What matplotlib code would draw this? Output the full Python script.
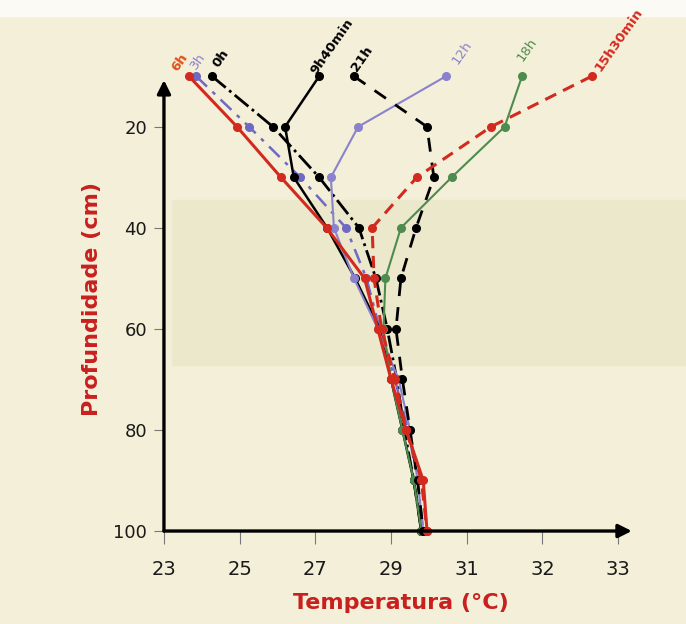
import numpy as np
import matplotlib
matplotlib.use('Agg')
import matplotlib.pyplot as plt
from matplotlib.patches import Rectangle

# profundidade (cm) e temperatura (C) para cada horario
depth = [10, 20, 30, 40, 50, 60, 70, 80, 90, 100]

t_0h = [24.27, 25.88, 27.10, 28.15, 28.60, 28.90, 29.15, 29.35, 29.60, 29.80]
t_3h = [23.85, 25.25, 26.60, 27.81, 28.35, 28.70, 29.10, 29.45, 29.70, 29.85]
t_6h = [23.66, 24.93, 26.09, 27.30, 28.30, 28.65, 29.00, 29.40, 29.85, 29.95]
t_9h40 = [27.10, 26.20, 26.43, 27.31, 28.05, 28.70, 29.00, 29.30, 29.60, 29.80]
t_12h = [30.45, 28.13, 27.41, 27.49, 28.02, 28.65, 29.20, 29.50, 29.70, 29.85]
t_15h30 = [32.65, 31.32, 29.68, 28.50, 28.55, 28.75, 29.10, 29.40, 29.80, 29.95]
t_18h = [31.73, 31.50, 30.60, 29.26, 28.85, 28.80, 29.00, 29.30, 29.60, 29.80]
t_21h = [28.02, 29.95, 30.13, 29.66, 29.26, 29.13, 29.30, 29.50, 29.70, 29.85]

x_ticks = [23, 25, 27, 29, 31, 32, 33]
y_ticks = [20, 40, 60, 80, 100]

RED = '#d22a1f'
LAV = '#8a82cc'
BLUE = '#6f68c4'
GREEN = '#4d8c4e'

# eixo x com espacamento igual entre os ticks (como no original)
_vals = [21, 23, 25, 27, 29, 31, 32, 33, 34]
_pos = [-1, 0, 1, 2, 3, 4, 5, 6, 7]
def fwd(v):
    return np.interp(v, _vals, _pos)
def inv(p):
    return np.interp(p, _pos, _vals)

fig = plt.figure(figsize=(6.86, 6.24), dpi=100)
fig.patch.set_facecolor('#f4efd8')
fig.add_artist(Rectangle((0, 1 - 16/624), 1, 16/624, transform=fig.transFigure,
                         color='#fbfaf4', zorder=-2))
fig.add_artist(Rectangle((0.25, (624 - 365)/624), 0.75, 165/624, transform=fig.transFigure,
                         color='#ece8cb', zorder=-2))

ax_w, ax_h = 0.682, 0.745
ax = fig.add_axes([0.239, 0.149, ax_w, ax_h])
ax.set_facecolor('none')
ax.set_xscale('function', functions=(fwd, inv))
ax.set_xlim(23, 33.18)
ax.set_ylim(100, 8)

series = [
    ('0h', t_0h, 'black', '-.', 2.0, 'black', (6, 13)),
    ('3h', t_3h, BLUE, (0, (6, 3, 1.5, 3)), 1.8, LAV, (1.5, 11)),
    ('9h40min', t_9h40, 'black', '-', 1.8, 'black', (9.5, 21.5)),
    ('12h', t_12h, LAV, '-', 1.5, LAV, (11.5, 17)),
    ('18h', t_18h, GREEN, '-', 1.5, GREEN, (3.6, 19)),
    ('21h', t_21h, 'black', (0, (5, 4)), 2.0, 'black', (6, 13)),
    ('15h30min', t_15h30, RED, (0, (4, 2.5)), 2.2, RED, (19.5, 26)),
    ('6h', t_6h, RED, '-', 2.2, '#e0501a', (-6.5, 10)),
]

for name, temps, col, ls, lw, lcol, off in series:
    ax.plot(temps, depth, color=col, linestyle=ls, linewidth=lw,
            marker='o', markersize=5.5, markerfacecolor=col, markeredgecolor=col,
            clip_on=False)
    bold = 'bold' if lcol == 'black' or name in ('6h', '15h30min') else 'normal'
    ax.annotate(name, (temps[0], depth[0]), xytext=off, textcoords='offset points',
                rotation=55, ha='center', va='center', fontsize=9.5,
                color=lcol, fontweight=bold)

for s in ax.spines.values():
    s.set_visible(False)

# eixos com setas
ax.annotate('', xy=(1, 0), xytext=(0, 0), xycoords='axes fraction',
            arrowprops=dict(arrowstyle='-|>', lw=2.4, color='black', mutation_scale=20,
                            shrinkA=0, shrinkB=0))
ax.annotate('', xy=(0, 0.97), xytext=(0, 0), xycoords='axes fraction',
            arrowprops=dict(arrowstyle='-|>', lw=2.4, color='black', mutation_scale=20,
                            shrinkA=0, shrinkB=0))

ax.set_xticks(x_ticks)
ax.set_xticklabels([str(v) for v in x_ticks])
ax.set_yticks(y_ticks)
ax.set_yticklabels([str(v) for v in y_ticks])
ax.minorticks_off()
ax.tick_params(axis='x', length=9, width=0.8, color='#777777', pad=12,
               labelsize=14, labelcolor='#1a1a1a')
ax.tick_params(axis='y', length=7, width=0.8, color='#777777', pad=5,
               labelsize=13, labelcolor='#1a1a1a')

ax.set_xlabel('Temperatura (°C)', fontsize=16, fontweight='bold', color='#c8201e')
ax.xaxis.set_label_coords((401 - 164) / (ax_w * 686), -(593 - 531) / (ax_h * 624))
ax.set_ylabel('Profundidade (cm)', fontsize=16, fontweight='bold', color='#c8201e')
ax.yaxis.set_label_coords(-(164 - 102) / (ax_w * 686), 0.5)

fig.savefig('out.png', dpi=100, facecolor=fig.get_facecolor())
